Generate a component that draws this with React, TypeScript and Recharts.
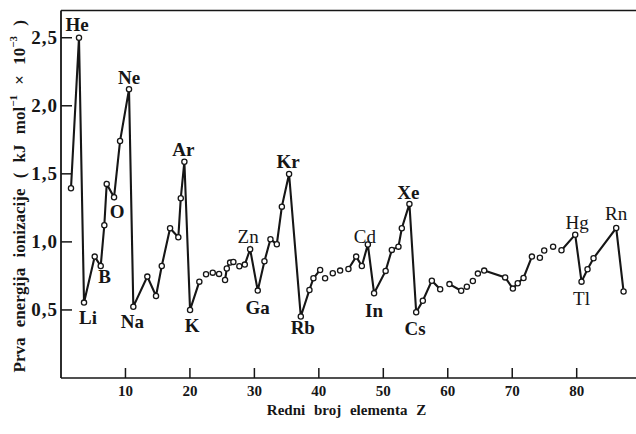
import { ComposedChart, Line, XAxis, YAxis, ReferenceLine } from 'recharts';

// atomic number as drawn on the plate (the hand-plotted points drift a little off the integers)
const zValues = [
  1.55, 2.79, 3.57, 5.23, 6.16, 6.72, 7.09, 8.23, 9.16, 10.55,
  11.22, 13.39, 14.74, 15.63, 16.92, 18.2, 18.58, 19.14, 20.02, 21.46,
  22.5, 23.54, 24.52, 25.45, 25.72, 26.23, 26.74, 27.67, 28.51, 29.34,
  30.52, 31.56, 32.49, 33.48, 34.26, 35.38, 37.2, 38.54, 39.16, 40.2,
  40.97, 42.16, 43.3, 44.59, 45.79, 46.67, 47.6, 48.57, 50.36, 51.32,
  52.35, 52.87, 54.05, 55.1, 56.13, 57.53, 58.82, 60.26, 62.08, 62.96,
  63.89, 64.67, 65.65, 68.9, 70.1, 70.85, 71.75, 73.05, 74.29, 74.96,
  76.34, 77.64, 79.77, 80.75, 81.68, 82.61, 86.13, 87.27,
];

// first ionisation energy, kJ mol-1 x 10^-3
const energies = [
  1.394, 2.5, 0.554, 0.892, 0.823, 1.122, 1.426, 1.328, 1.741, 2.121,
  0.524, 0.745, 0.603, 0.823, 1.1, 1.034, 1.321, 1.589, 0.5, 0.708,
  0.762, 0.774, 0.765, 0.72, 0.805, 0.848, 0.853, 0.821, 0.833, 0.946,
  0.642, 0.858, 1.019, 0.983, 1.259, 1.499, 0.452, 0.647, 0.733, 0.794,
  0.733, 0.77, 0.789, 0.801, 0.892, 0.823, 0.981, 0.623, 0.787, 0.941,
  0.965, 1.1, 1.279, 0.483, 0.568, 0.715, 0.652, 0.69, 0.641, 0.671,
  0.713, 0.767, 0.789, 0.739, 0.657, 0.696, 0.735, 0.892, 0.884, 0.937,
  0.965, 0.939, 1.053, 0.708, 0.799, 0.88, 1.102, 0.636,
];

// which drawn polyline a point belongs to (0 = loose circle, not joined)
const segments = [
  1, 1, 1, 1, 1, 1, 1, 1, 1, 1,
  1, 1, 1, 1, 1, 1, 1, 1, 1, 1,
  0, 0, 0, 2, 2, 2, 2, 3, 3, 3,
  3, 3, 3, 3, 3, 3, 3, 3, 3, 3,
  0, 0, 0, 4, 4, 4, 4, 4, 4, 4,
  4, 4, 4, 4, 4, 4, 4, 5, 5, 0,
  0, 0, 6, 6, 6, 6, 6, 6, 0, 0,
  0, 7, 7, 7, 7, 7, 7, 7,
];

// element symbols printed next to points ('' = no label)
const symbols = [
  '', 'He', 'Li', '', 'B', '', '', 'O', '', 'Ne',
  'Na', '', '', '', '', '', '', 'Ar', 'K', '',
  '', '', '', '', '', '', '', '', '', 'Zn',
  'Ga', '', '', '', '', 'Kr', 'Rb', '', '', '',
  '', '', '', '', '', '', 'Cd', 'In', '', '',
  '', '', 'Xe', 'Cs', '', '', '', '', '', '',
  '', '', '', '', '', '', '', '', '', '',
  '', '', 'Hg', 'Tl', '', '', 'Rn', '',
];

const xTicks = [10, 20, 30, 40, 50, 60, 70, 80];
const yTicks = [0.5, 1, 1.5, 2, 2.5];

// label placement relative to its point (px)
const labelOffset: Record<string, [number, number]> = {
  He: [-2, -13], Ne: [0, -12], O: [3, 14], Ar: [-1, -12], Li: [4, 15], B: [4, 11],
  Na: [-1, 15], K: [2, 16], Zn: [-2, -13], Ga: [0, 17], Kr: [-1, -12], Rb: [2, 11],
  Cd: [-3, -8], In: [0, 17], Xe: [-1, -11], Cs: [-1, 16], Hg: [2, -12], Tl: [0, 17], Rn: [0, -15],
};
const boldLabels = ['He', 'Ne', 'Ar', 'Kr', 'Xe', 'Li', 'Na', 'K', 'Rb', 'Cs', 'O', 'B', 'Ga', 'In'];

const FONT = '"Liberation Serif", "DejaVu Serif", serif';
const INK = '#161616';

const rows = zValues.map((z, i) => {
  const seg = segments[i];
  return {
    z,
    e: energies[i],
    sym: symbols[i],
    s0: seg > 0 && seg % 2 === 0 ? energies[i] : null,
    s1: seg > 0 && seg % 2 === 1 ? energies[i] : null,
  };
});

const renderDot = (props: any) => {
  const { cx, cy, index, payload } = props;
  const sym = payload.sym;
  const off = sym ? labelOffset[sym] : null;
  return (
    <g key={`pt-${index}`}>
      <circle cx={cx} cy={cy} r={2.6} fill="#fff" stroke={INK} strokeWidth={1.3} />
      {off && (
        <text
          x={cx + off[0]}
          y={cy + off[1]}
          textAnchor="middle"
          dominantBaseline="central"
          fontFamily={FONT}
          fontSize={19}
          fontWeight={boldLabels.includes(sym) ? 'bold' : 'normal'}
          fill={INK}
        >
          {sym}
        </text>
      )}
    </g>
  );
};

const XTick = (props: any) => {
  const { x, y, payload } = props;
  return (
    <g>
      <line x1={x} y1={y - 10} x2={x} y2={y} stroke={INK} strokeWidth={1.5} />
      <text x={x} y={y + 13} textAnchor="middle" dominantBaseline="central" fontFamily={FONT} fontSize={15} fontWeight="bold" fill={INK}>
        {payload.value}
      </text>
    </g>
  );
};

const YTick = (props: any) => {
  const { x, y, payload } = props;
  return (
    <g>
      <line x1={x} y1={y} x2={x + 11} y2={y} stroke={INK} strokeWidth={1.5} />
      <text x={x - 3} y={y} textAnchor="end" dominantBaseline="central" fontFamily={FONT} fontSize={19} fontWeight="bold" letterSpacing={1} fill={INK}>
        {payload.value.toFixed(1).replace('.', ',')}
      </text>
    </g>
  );
};

const XTitle = (props: any) => {
  const vb = props.viewBox || { x: 61, y: 378, width: 575, height: 30 };
  return (
    <text x={vb.x + vb.width / 2 - 2} y={vb.y + 32} textAnchor="middle" dominantBaseline="central" fontFamily={FONT} fontSize={15} fontWeight="bold" wordSpacing={5} fill={INK}>
      Redni broj elementa Z
    </text>
  );
};

const YTitle = (props: any) => {
  const vb = props.viewBox || { x: 0, y: 10.5, width: 61, height: 367.5 };
  const cx = 19;
  const cy = vb.y + vb.height / 2 + 2;
  return (
    <text
      x={cx}
      y={cy}
      textAnchor="middle"
      dominantBaseline="central"
      fontFamily={FONT}
      fontSize={17}
      fontWeight="bold"
      wordSpacing={6}
      fill={INK}
      transform={`rotate(-90, ${cx}, ${cy})`}
    >
      <tspan>Prva energija ionizacije ( kJ mol</tspan>
      <tspan dy={-6} fontSize={11}>−1</tspan>
      <tspan dy={6}> × 10</tspan>
      <tspan dy={-6} fontSize={11}>−3</tspan>
      <tspan dy={6}> )</tspan>
    </text>
  );
};

export default function App() {
  return (
    <div style={{ position: 'absolute', left: 0, top: 0, width: 636, height: 434, background: '#fff' }}>
      <ComposedChart width={636} height={434} data={rows} margin={{ top: 10.5, right: 0, bottom: 26, left: 0 }}>
        <XAxis
          type="number"
          dataKey="z"
          domain={[0, 89.2]}
          ticks={xTicks}
          allowDataOverflow
          height={30}
          stroke={INK}
          strokeWidth={1.6}
          tickLine={false}
          tickSize={0}
          tickMargin={0}
          tick={<XTick />}
          label={<XTitle />}
        />
        <YAxis
          type="number"
          domain={[0, 2.7]}
          ticks={yTicks}
          allowDataOverflow
          width={61}
          stroke={INK}
          strokeWidth={1.8}
          tickLine={false}
          tickSize={0}
          tickMargin={0}
          tick={<YTick />}
          label={<YTitle />}
        />
        <ReferenceLine y={2.7} stroke={INK} strokeWidth={1.5} />
        <Line type="linear" dataKey="s1" stroke={INK} strokeWidth={2.1} dot={false} activeDot={false} connectNulls={false} isAnimationActive={false} />
        <Line type="linear" dataKey="s0" stroke={INK} strokeWidth={2.1} dot={false} activeDot={false} connectNulls={false} isAnimationActive={false} />
        <Line type="linear" dataKey="e" stroke="none" dot={renderDot} activeDot={false} isAnimationActive={false} />
      </ComposedChart>
    </div>
  );
}
